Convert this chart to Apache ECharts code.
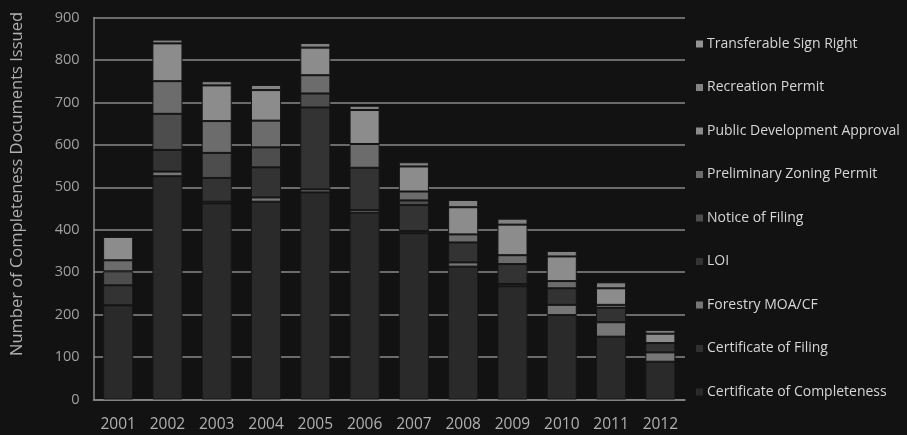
<!DOCTYPE html>
<html>
<head>
<meta charset="utf-8">
<script src="https://cdn.jsdelivr.net/npm/echarts@6/dist/echarts.min.js"></script>
<style>
html,body{margin:0;padding:0;background:#121212;}
#c{width:907px;height:435px;}
</style>
</head>
<body>
<div id="c"></div>
<script>
var years = ['2001','2002','2003','2004','2005','2006','2007','2008','2009','2010','2011','2012'];
var seriesNames = ['Certificate of Completeness','Certificate of Filing','Forestry MOA/CF','LOI','Notice of Filing','Preliminary Zoning Permit','Public Development Approval','Recreation Permit','Transferable Sign Right'];
var certCompleteness = [222, 526, 462, 466, 488, 440, 392, 313, 267, 199, 148, 89];
var certFiling       = [0, 0, 0, 0, 0, 0, 0, 0, 0, 0, 0, 0];
var forestry         = [0, 11, 4, 10, 7, 6, 5, 10, 5, 24, 34, 22];
var loi              = [47, 51, 56, 71, 193, 100, 61, 47, 47, 39, 34, 22];
var noticeFiling     = [33, 85, 59, 47, 33, 0, 11, 0, 0, 0, 0, 0];
var prelimZoning     = [26, 77, 75, 63, 43, 56, 21, 19, 21, 17, 7, 0];
var publicDev        = [55, 89, 84, 72, 65, 80, 59, 64, 72, 58, 39, 22];
var recreation       = [0, 9, 10, 12, 11, 10, 10, 17, 14, 13, 14, 9];
var transferable     = [0, 0, 0, 0, 0, 0, 0, 0, 0, 0, 0, 0];
var yTicks = [0,100,200,300,400,500,600,700,800,900];

var values = [certCompleteness, certFiling, forestry, loi, noticeFiling, prelimZoning, publicDev, recreation, transferable];
var colors = ['#2a2a2a','#303030','#767676','#333333','#4d4d4d','#6c6c6c','#8c8c8c','#828282','#939393'];

var font = '"Open Sans", "Liberation Sans", sans-serif';
var chart = echarts.init(document.getElementById('c'), null, {renderer:'canvas'});
var series = seriesNames.map(function(n, i){
  return {
    name: n, type: 'bar', stack: 'total',
    barCategoryGap: '39%',
    itemStyle: {color: colors[i], borderColor: '#161616', borderWidth: 1},
    data: values[i].map(function(v){ return v === 0 ? '-' : v; })
  };
});
chart.setOption({
  backgroundColor: '#121212',
  animation: false,
  grid: {left: 93.5, right: 222, top: 17.5, bottom: 35.5, containLabel: false},
  legend: {
    orient: 'vertical', left: 691, top: 31,
    itemWidth: 7, itemHeight: 7, itemGap: 27.5,
    itemStyle: {borderWidth: 0},
    icon: 'rect',
    data: seriesNames.slice().reverse(),
    textStyle: {color: '#d6d6d6', fontSize: 14, fontFamily: font, lineHeight: 16, padding: [0,0,0,-1]}
  },
  xAxis: {
    type: 'category', data: years,
    axisLine: {lineStyle: {color: '#8a8a8a', width: 1.5}},
    axisTick: {show: false},
    axisLabel: {color: '#b0b0b0', fontSize: 15.5, fontFamily: font, margin: 17}
  },
  yAxis: {
    type: 'value', min: yTicks[0], max: yTicks[yTicks.length-1], interval: 100,
    axisLine: {show: true, lineStyle: {color: '#8a8a8a', width: 1.5}},
    axisTick: {show: false},
    splitLine: {lineStyle: {color: '#8a8a8a', width: 1.5}},
    axisLabel: {color: '#a0a0a0', fontSize: 14.5, fontFamily: font, margin: 14}
  },
  graphic: [{
    type: 'text', x: 17, y: 184, rotation: Math.PI/2,
    style: {text: 'Number of Completeness Documents Issued', fill: '#b0b0b0', fontSize: 16.5, fontFamily: font, align: 'center', verticalAlign: 'middle'}
  }],
  series: series
});
</script>
</body>
</html>
